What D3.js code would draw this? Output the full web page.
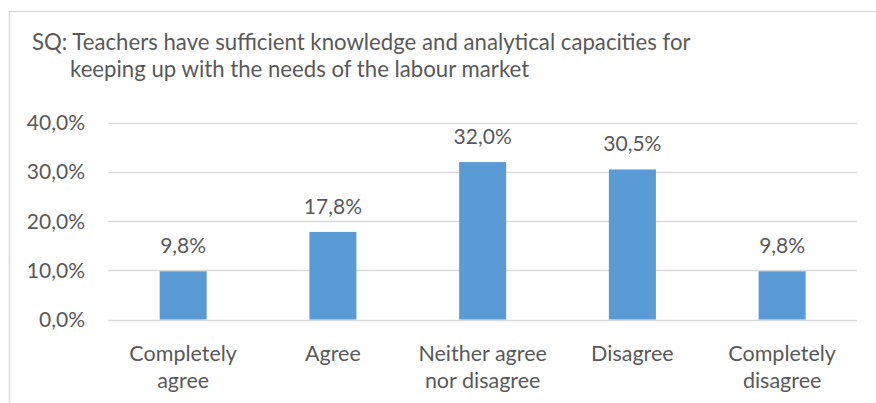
<!DOCTYPE html>
<html><head><meta charset="utf-8">
<script src="https://cdnjs.cloudflare.com/ajax/libs/d3/7.8.5/d3.min.js"></script>
<style>
html,body{margin:0;padding:0;background:#fff;}
svg{display:block;}
text{font-family:Lato, "Open Sans", sans-serif;fill:#595959;}
</style></head>
<body>
<script>
const titleLines = ["SQ: Teachers have sufficient knowledge and analytical capacities for", "keeping up with the needs of the labour market"];
const categories = [["Completely","agree"],["Agree"],["Neither agree","nor disagree"],["Disagree"],["Completely","disagree"]];
const values = [9.8, 17.8, 32.0, 30.5, 9.8];
const yTicks = [0, 10, 20, 30, 40];

const W = 876, H = 403;
const svg = d3.select("body").append("svg").attr("width", W).attr("height", H);

// chart border
svg.append("rect").attr("x", 9.5).attr("y", 11.5).attr("width", W).attr("height", H)
  .attr("fill", "none").attr("stroke", "#d9d9d9").attr("stroke-width", 1.5);

const x = d3.scaleBand().domain(d3.range(categories.length)).range([108.3, 857]).padding(0);
const y = d3.scaleLinear().domain([0, 40]).range([319.5, 122.7]);

const fmt = v => d3.format(".1f")(v).replace(".", ",") + "%";

// title
const t = svg.append("text").attr("font-size", 22.2);
t.append("tspan").attr("x", 32).attr("y", 50).text(titleLines[0]);
t.append("tspan").attr("x", 70).attr("y", 77).text(titleLines[1]);

// gridlines
svg.append("g").selectAll("line").data(yTicks).join("line")
  .attr("x1", x.range()[0]).attr("x2", x.range()[1])
  .attr("y1", d => Math.round(y(d)) + 0.5).attr("y2", d => Math.round(y(d)) + 0.5)
  .attr("stroke", "#d9d9d9").attr("stroke-width", 1.3);

// y axis labels
svg.append("g").selectAll("text").data(yTicks).join("text")
  .attr("x", 85).attr("y", d => y(d)).attr("dy", "0.36em")
  .attr("text-anchor", "end").attr("font-size", 21).text(d => fmt(d));

const bw = x.bandwidth() * 0.314;
svg.append("g").selectAll("rect").data(values).join("rect")
  .attr("x", (d, i) => x(i) + x.bandwidth() / 2 - bw / 2)
  .attr("width", bw)
  .attr("y", d => y(d))
  .attr("height", d => y(0) - y(d))
  .attr("fill", "#5b9bd5");

// data labels
svg.append("g").selectAll("text").data(values).join("text")
  .attr("x", (d, i) => x(i) + x.bandwidth() / 2)
  .attr("y", d => y(d) - 18)
  .attr("text-anchor", "middle").attr("font-size", 21).text(d => fmt(d));

// category labels
const cg = svg.append("g").selectAll("text").data(categories).join("text")
  .attr("text-anchor", "middle").attr("font-size", 21.5);
cg.selectAll("tspan").data((d, i) => d.map(s => ({s, i}))).join("tspan")
  .attr("x", d => x(d.i) + x.bandwidth() / 2)
  .attr("y", (d, j) => 361 + j * 26.5)
  .text(d => d.s);
</script>
</body></html>
